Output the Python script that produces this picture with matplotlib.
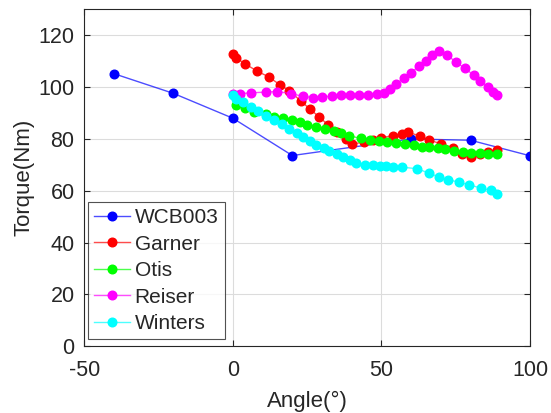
import matplotlib
matplotlib.use('Agg')
import matplotlib.pyplot as plt
from matplotlib.lines import Line2D

# torque vs angle for each seat
wcb_angle = [-40, -20, 0, 20, 60, 80, 100]
wcb_torque = [105.2, 97.6, 88.0, 73.6, 80.0, 79.5, 73.5]

garner_angle = [0, 1, 4, 8, 12, 16, 19, 23, 26, 29, 32, 35, 38, 40, 44, 47,
                50, 54, 57, 59, 63, 66, 70, 74, 77, 80, 83, 86, 89]
garner_torque = [112.7, 111.4, 109.1, 106.3, 104.0, 100.8, 98.6, 94.5, 91.5,
                 88.5, 85.5, 82.8, 80.0, 78.1, 78.7, 79.6, 80.5, 81.3, 81.8,
                 82.5, 81.2, 79.5, 78.2, 76.5, 74.1, 73.2, 74.2, 74.8, 75.9]

otis_angle = [1, 4, 7, 11, 14, 17, 20, 22.5, 25, 28, 31, 34, 36.5, 39, 43, 46,
              49, 52, 55, 58, 61, 63.5, 66, 69, 71.5, 74.5, 77.5, 80, 83, 86, 89]
otis_torque = [93.0, 92.0, 90.6, 89.6, 88.6, 88.0, 87.3, 86.4, 85.5, 84.7,
               83.7, 82.9, 82.2, 81.3, 80.2, 79.6, 79.2, 78.8, 78.6, 78.1,
               77.5, 77.0, 76.8, 76.5, 76.0, 75.5, 75.1, 74.7, 74.5, 74.2, 74.0]

reiser_angle = [0, 2.5, 6, 11, 15, 19.5, 23.5, 27, 30, 33.5, 36.5, 39.5, 42.5,
                45.5, 48.5, 51, 53, 55, 57.5, 60, 62.5, 65, 67, 69.5, 72, 75,
                78, 81, 83, 86, 87.5, 89]
reiser_torque = [97.3, 97.5, 97.8, 98.1, 98.3, 97.5, 96.5, 96.0, 96.3, 96.5,
                 96.8, 97.0, 97.0, 97.0, 97.3, 97.6, 99.2, 101.1, 103.7, 105.6,
                 108.1, 110.1, 112.3, 114.0, 112.4, 109.8, 107.3, 104.7, 102.4,
                 100.1, 98.3, 96.9]

winters_angle = [0, 1, 3.5, 6, 8.5, 11, 14, 16.5, 19, 21.5, 23.5, 26, 28, 30.5,
                 32.5, 35, 37, 39.5, 41.5, 44.5, 47, 49.5, 51.5, 54, 57, 62,
                 66, 69.5, 72.5, 76, 79.5, 83.5, 87, 89]
winters_torque = [96.9, 95.4, 94.1, 92.4, 90.9, 89.0, 87.3, 85.8, 83.8, 82.2,
                  80.6, 79.1, 77.7, 76.4, 75.2, 74.0, 72.9, 71.9, 70.9, 70.1,
                  70.0, 69.7, 69.5, 69.3, 69.1, 68.5, 66.8, 65.2, 64.3, 63.3,
                  62.3, 61.0, 60.1, 58.8]

series = [
    ('WCB003', wcb_angle, wcb_torque, '#0000ff'),
    ('Garner', garner_angle, garner_torque, '#ff0000'),
    ('Otis', otis_angle, otis_torque, '#00ff00'),
    ('Reiser', reiser_angle, reiser_torque, '#ff00ff'),
    ('Winters', winters_angle, winters_torque, '#00ffff'),
]

plt.rcParams['font.family'] = ['Liberation Sans', 'DejaVu Sans']
plt.rcParams['axes.unicode_minus'] = False
dark = '#262626'
ms = 6.2

fig = plt.figure(figsize=(5.51, 4.13), dpi=100)
ax = fig.add_axes([0.153, 0.162, 0.809, 0.815])

for name, x, y, c in series:
    line, = ax.plot(x, y, '-', color=c, lw=1.0, alpha=0.7)
    ax.plot(x, y, 'o', color=c, ms=ms, mec=c, zorder=line.get_zorder())

# legend entries show the line with its marker
handles = []
for _, _, _, c in series:
    handles.append((Line2D([], [], color=c, lw=1.0, alpha=0.7),
                    Line2D([], [], ls='', marker='o', ms=ms, color=c)))
labels = [s[0] for s in series]

ax.set_xlim(-50, 100)
ax.set_ylim(0, 130)
ax.set_xticks([-50, 0, 50, 100])
ax.set_yticks(range(0, 121, 20))
ax.grid(True, color='#dcdcdc', lw=0.8)
ax.set_axisbelow(True)
ax.tick_params(direction='in', top=True, right=True, labelsize=15.5,
               colors=dark, length=4, width=0.8)
ax.tick_params(axis='x', pad=10)
ax.tick_params(axis='y', pad=7)
for sp in ax.spines.values():
    sp.set_color(dark)
    sp.set_linewidth(0.8)

ax.set_xlabel('Angle(°)', fontsize=16, color=dark, labelpad=7)
ax.set_ylabel('Torque(Nm)', fontsize=16, color=dark, labelpad=3)

leg = ax.legend(handles, labels, loc='lower left',
                bbox_to_anchor=(0.008, 0.02), fontsize=15, frameon=True,
                fancybox=False, edgecolor=dark, handlelength=1.7,
                handletextpad=0.25, labelspacing=0.36, borderpad=0.3,
                borderaxespad=0)
leg.get_frame().set_linewidth(0.8)
for t in leg.get_texts():
    t.set_color(dark)

fig.savefig('out.png', dpi=100)
